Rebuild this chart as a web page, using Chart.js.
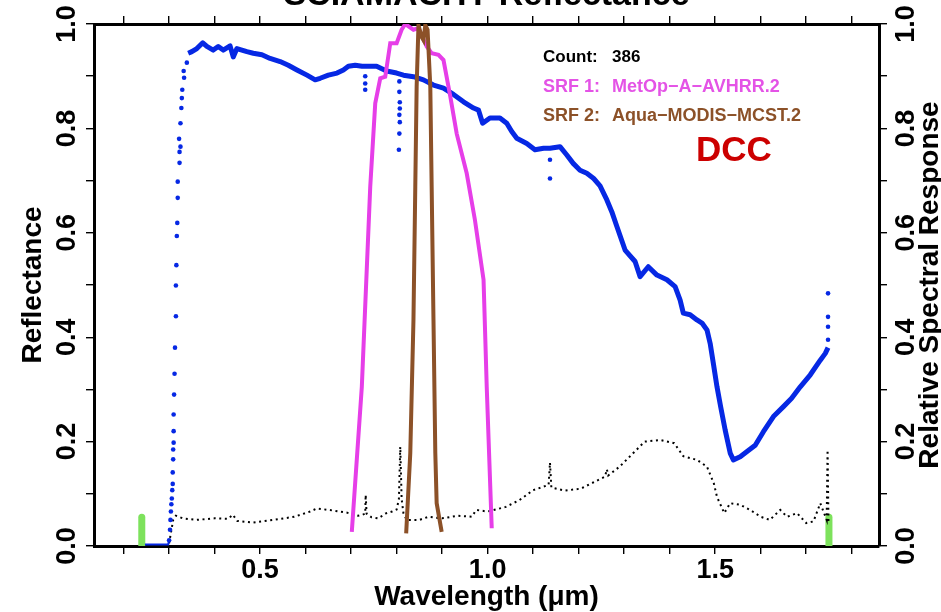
<!DOCTYPE html>
<html>
<head>
<meta charset="utf-8">
<script src="https://cdn.jsdelivr.net/npm/chart.js@4"></script>
<style>
  html, body { margin: 0; padding: 0; background: #fff; }
  canvas { display: block; }
</style>
</head>
<body>
<canvas id="reflChart" width="941" height="612"></canvas>
<script>
// axis range (wavelength in um)
const xRange = [0.135, 1.86];
const yTickLabels = ["0.0", "0.2", "0.4", "0.6", "0.8", "1.0"];
const xTickLabels = ["0.5", "1.0", "1.5"];

// mean DCC reflectance, dense part of the spectrum
const blueWl = [0.342, 0.35, 0.361, 0.374, 0.383, 0.397, 0.408, 0.419, 0.434, 0.441, 0.449, 0.471, 0.485, 0.504, 0.522, 0.544, 0.562, 0.581, 0.603, 0.621, 0.632, 0.65, 0.669, 0.683, 0.694, 0.709, 0.724, 0.742, 0.756, 0.778, 0.80, 0.815, 0.837, 0.859, 0.881, 0.903, 0.925, 0.947, 0.969, 0.98, 0.989, 1.005, 1.027, 1.042, 1.053, 1.064, 1.086, 1.104, 1.123, 1.137, 1.159, 1.174, 1.188, 1.203, 1.218, 1.233, 1.247, 1.262, 1.273, 1.284, 1.302, 1.324, 1.335, 1.353, 1.372, 1.394, 1.412, 1.423, 1.43, 1.445, 1.46, 1.471, 1.482, 1.489, 1.497, 1.504, 1.512, 1.522, 1.533, 1.54, 1.555, 1.57, 1.588, 1.606, 1.628, 1.65, 1.668, 1.687, 1.709, 1.731, 1.742, 1.748];
const blueRefl = [0.944, 0.947, 0.953, 0.964, 0.957, 0.95, 0.957, 0.95, 0.958, 0.937, 0.953, 0.947, 0.944, 0.941, 0.934, 0.928, 0.921, 0.912, 0.902, 0.893, 0.896, 0.902, 0.906, 0.912, 0.919, 0.921, 0.919, 0.919, 0.919, 0.91, 0.906, 0.902, 0.899, 0.893, 0.883, 0.877, 0.865, 0.851, 0.839, 0.835, 0.81, 0.82, 0.82, 0.81, 0.794, 0.781, 0.771, 0.759, 0.762, 0.762, 0.765, 0.749, 0.733, 0.72, 0.714, 0.704, 0.69, 0.663, 0.64, 0.612, 0.567, 0.545, 0.516, 0.535, 0.519, 0.51, 0.497, 0.471, 0.446, 0.443, 0.433, 0.427, 0.414, 0.388, 0.344, 0.305, 0.267, 0.222, 0.178, 0.165, 0.171, 0.181, 0.193, 0.219, 0.248, 0.267, 0.283, 0.305, 0.328, 0.356, 0.369, 0.38];

// flat UV part below the SCIAMACHY cut-on
const baseWl = [0.247, 0.298, 0.300];
const baseRefl = [0.003, 0.003, 0.011];

// isolated reflectance samples (UV rise, absorption dips, last band)
const dotWl = [0.300, 0.302, 0.303, 0.304, 0.305, 0.306, 0.307, 0.308, 0.308, 0.309, 0.309, 0.310, 0.310, 0.310, 0.311, 0.312, 0.313, 0.315, 0.315, 0.316, 0.317, 0.318, 0.319, 0.319, 0.323, 0.323, 0.325, 0.322, 0.325, 0.327, 0.328, 0.329, 0.333, 0.332, 0.339, 0.731, 0.731, 0.731, 0.806, 0.806, 0.807, 0.807, 0.806, 0.807, 0.806, 0.805, 1.137, 1.137, 1.748, 1.748, 1.748, 1.748];
const dotRefl = [0.011, 0.031, 0.05, 0.066, 0.08, 0.091, 0.107, 0.119, 0.141, 0.166, 0.185, 0.198, 0.22, 0.252, 0.29, 0.33, 0.38, 0.44, 0.499, 0.538, 0.594, 0.619, 0.667, 0.698, 0.734, 0.755, 0.765, 0.78, 0.81, 0.839, 0.858, 0.874, 0.897, 0.91, 0.926, 0.90, 0.886, 0.874, 0.89, 0.87, 0.85, 0.838, 0.826, 0.812, 0.79, 0.759, 0.74, 0.704, 0.395, 0.42, 0.439, 0.484];

// standard deviation (black dotted)
const stdWl = [0.300, 0.305, 0.309, 0.315, 0.33, 0.36, 0.40, 0.43, 0.44, 0.45, 0.485, 0.53, 0.575, 0.61, 0.625, 0.66, 0.69, 0.715, 0.725, 0.731, 0.732, 0.734, 0.745, 0.76, 0.775, 0.79, 0.80, 0.805, 0.808, 0.811, 0.815, 0.822, 0.85, 0.87, 0.90, 0.935, 0.965, 0.975, 1.0, 1.04, 1.07, 1.10, 1.134, 1.137, 1.14, 1.17, 1.205, 1.235, 1.258, 1.262, 1.265, 1.29, 1.32, 1.345, 1.38, 1.41, 1.43, 1.46, 1.482, 1.497, 1.504, 1.52, 1.533, 1.555, 1.577, 1.60, 1.62, 1.643, 1.658, 1.68, 1.70, 1.716, 1.731, 1.745, 1.747, 1.749];
const stdVal = [0.005, 0.03, 0.05, 0.058, 0.053, 0.05, 0.053, 0.052, 0.06, 0.048, 0.045, 0.05, 0.056, 0.066, 0.072, 0.068, 0.064, 0.058, 0.06, 0.062, 0.098, 0.062, 0.055, 0.053, 0.062, 0.066, 0.07, 0.09, 0.19, 0.09, 0.063, 0.05, 0.05, 0.056, 0.053, 0.058, 0.056, 0.069, 0.066, 0.075, 0.088, 0.107, 0.117, 0.16, 0.112, 0.106, 0.11, 0.123, 0.133, 0.147, 0.135, 0.152, 0.178, 0.2, 0.203, 0.197, 0.172, 0.165, 0.152, 0.12, 0.094, 0.063, 0.082, 0.079, 0.069, 0.056, 0.05, 0.069, 0.056, 0.063, 0.044, 0.047, 0.082, 0.05, 0.184, 0.044];

// SRF 1: MetOp-A AVHRR band 2
const srf1Wl = [0.7015, 0.7235, 0.742, 0.753, 0.764, 0.775, 0.786, 0.80, 0.811, 0.819, 0.837, 0.848, 0.866, 0.877, 0.892, 0.903, 0.918, 0.932, 0.954, 0.972, 0.991, 0.998, 1.009];
const srf1Val = [0.027, 0.305, 0.688, 0.848, 0.896, 0.899, 0.963, 0.963, 0.989, 1.0, 0.989, 0.992, 0.957, 0.944, 0.941, 0.931, 0.861, 0.79, 0.714, 0.625, 0.51, 0.305, 0.034];

// SRF 2: Aqua MODIS band 2
const srf2Wl = [0.821, 0.83, 0.837, 0.841, 0.844, 0.848, 0.855, 0.859, 0.863, 0.868, 0.874, 0.877, 0.881, 0.885, 0.888, 0.899];
const srf2Val = [0.024, 0.178, 0.433, 0.688, 0.88, 0.998, 0.975, 0.969, 0.998, 0.989, 0.88, 0.688, 0.433, 0.178, 0.082, 0.027];

// SCIAMACHY usable range markers
const rangeWl = [0.24, 1.75];
const rangeH = 0.055;

const FONT = '"Liberation Sans", Arial, Helvetica, sans-serif';
const BLUE = "#0628e4";
const pts = (xs, ys) => xs.map((x, i) => ({ x: x, y: ys[i] }));
const isStep = (v, s) => Math.abs(v / s - Math.round(v / s)) < 1e-6;

const labelPlugin = {
  id: "labelPlugin",
  afterDraw(chart) {
    const ctx = chart.ctx;
    const area = chart.chartArea;
    const sx = chart.scales.x, sy = chart.scales.y, sy2 = chart.scales.y2;
    const midY = (area.top + area.bottom) / 2;
    const midX = (area.left + area.right) / 2;
    const rot = (text, px, py) => {
      ctx.save();
      ctx.translate(px, py);
      ctx.rotate(-Math.PI / 2);
      ctx.fillText(text, 0, 0);
      ctx.restore();
    };
    ctx.save();
    ctx.fillStyle = "#000";
    ctx.textAlign = "center";
    ctx.textBaseline = "alphabetic";
    ctx.font = "bold 27px " + FONT;
    sx.ticks.forEach(t => {
      const s = t.value.toFixed(1);
      if (isStep(t.value, 0.5) && xTickLabels.includes(s)) ctx.fillText(s, sx.getPixelForValue(t.value), 578);
    });
    sy.ticks.forEach(t => {
      const s = t.value.toFixed(1);
      if (yTickLabels.includes(s) && isStep(t.value, 0.2)) rot(s, 75, sy.getPixelForValue(t.value));
    });
    sy2.ticks.forEach(t => {
      const s = t.value.toFixed(1);
      if (yTickLabels.includes(s) && isStep(t.value, 0.2)) rot(s, 914, sy2.getPixelForValue(t.value));
    });
    ctx.font = "bold 28px " + FONT;
    rot("Reflectance", 41, midY);
    rot("Relative Spectral Response", 938, midY);
    ctx.fillText("Wavelength (\u03bcm)", midX, 605);
    ctx.font = "bold 34px " + FONT;
    ctx.fillText("SCIAMACHY Reflectance", midX, 5);

    // legend block
    ctx.textAlign = "left";
    ctx.font = "bold 17px " + FONT;
    ctx.fillStyle = "#000";
    ctx.fillText("Count:", 543, 62);
    ctx.fillText("386", 612, 62);
    ctx.font = "bold 18px " + FONT;
    ctx.fillStyle = "#e453e6";
    ctx.fillText("SRF 1:", 543, 92);
    ctx.fillText("MetOp\u2212A\u2212AVHRR.2", 612, 92);
    ctx.fillStyle = "#8c5128";
    ctx.fillText("SRF 2:", 543, 121);
    ctx.fillText("Aqua\u2212MODIS\u2212MCST.2", 612, 121);
    ctx.fillStyle = "#cc0000";
    ctx.font = "bold 35px " + FONT;
    ctx.fillText("DCC", 696, 161);
    ctx.restore();
  }
};

const axisGrid = { drawOnChartArea: false, drawTicks: true, tickLength: 8, color: "#000", lineWidth: 1.4 };
const axisBorder = { display: true, color: "#000", width: 3 };

new Chart(document.getElementById("reflChart"), {
  type: "scatter",
  data: {
    datasets: [
      { label: "SRF 2", data: pts(srf2Wl, srf2Val), yAxisID: "y2", showLine: true, borderColor: "#8c5128", borderWidth: 4, pointRadius: 0, tension: 0 },
      { label: "SRF 1", data: pts(srf1Wl, srf1Val), yAxisID: "y2", showLine: true, borderColor: "#e63ee8", borderWidth: 4, pointRadius: 0, tension: 0 },
      { label: "Reflectance", data: pts(blueWl, blueRefl), showLine: true, borderColor: BLUE, borderWidth: 5, pointRadius: 0, tension: 0, borderJoinStyle: "round" },
      { label: "Reflectance dots", data: pts(dotWl, dotRefl), showLine: false, pointRadius: 2.3, pointBorderWidth: 0, backgroundColor: BLUE },
      { label: "Reflectance UV", data: pts(baseWl, baseRefl), showLine: true, borderColor: BLUE, borderWidth: 2, pointRadius: 0 },
      { label: "Std", data: pts(stdWl, stdVal), showLine: true, borderColor: "#000", borderWidth: 2, borderDash: [2, 3.6], pointRadius: 0, tension: 0 },
      { label: "Range low", data: [{ x: rangeWl[0], y: 0 }, { x: rangeWl[0], y: rangeH }], showLine: true, borderColor: "#7de25c", borderWidth: 7, borderCapStyle: "round", pointRadius: 0 },
      { label: "Range high", data: [{ x: rangeWl[1], y: 0 }, { x: rangeWl[1], y: rangeH }], showLine: true, borderColor: "#7de25c", borderWidth: 7, borderCapStyle: "round", pointRadius: 0 }
    ]
  },
  options: {
    responsive: false,
    animation: false,
    events: [],
    layout: { padding: 0 },
    plugins: { legend: { display: false }, tooltip: { enabled: false }, title: { display: false } },
    scales: {
      x: {
        type: "linear", position: "bottom", min: xRange[0], max: xRange[1],
        ticks: { display: false, stepSize: 0.1, includeBounds: false },
        grid: axisGrid, border: axisBorder,
        afterFit: s => { s.height = 66; }
      },
      xTop: {
        type: "linear", axis: "x", position: "top", min: xRange[0], max: xRange[1],
        ticks: { display: false, stepSize: 0.1, includeBounds: false },
        grid: axisGrid, border: axisBorder,
        afterFit: s => { s.height = 24; }
      },
      y: {
        type: "linear", position: "left", min: 0, max: 1,
        ticks: { display: false, stepSize: 0.1 },
        grid: axisGrid, border: axisBorder,
        afterFit: s => { s.width = 94; }
      },
      y2: {
        type: "linear", position: "right", min: 0, max: 1,
        ticks: { display: false, stepSize: 0.1 },
        grid: axisGrid, border: axisBorder,
        afterFit: s => { s.width = 62; }
      }
    }
  },
  plugins: [labelPlugin]
});
</script>
</body>
</html>
